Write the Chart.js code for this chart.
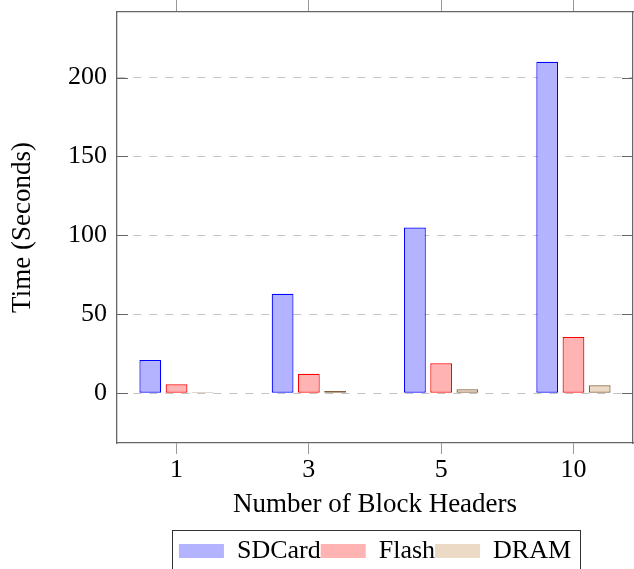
<!DOCTYPE html>
<html>
<head>
<meta charset="utf-8">
<script src="https://cdn.jsdelivr.net/npm/chart.js@4/dist/chart.umd.min.js"></script>
<style>
  html, body { margin: 0; padding: 0; background: #fff; }
  canvas { display: block; }
</style>
</head>
<body>
<canvas id="c" width="634" height="569"></canvas>
<script>
// ---- data ----
const categories = ['1', '3', '5', '10'];
const sdcard = [21, 63, 105, 210];
const flash = [5.7, 12.4, 19, 35.6];
const dram = [0.6, 1.5, 2.5, 5.1];
const yTicks = [0, 50, 100, 150, 200];
const seriesNames = ['SDCard', 'Flash', 'DRAM'];

const xMin = -0.45, xMax = categories.length - 1 + 0.45;
const yMin = -31.5, yMax = 241.5;

const FONT = 'Liberation Serif';
const frameColor = '#666';

function pts(arr) { return arr.map((v, i) => ({ x: i, y: v })); }
function xTickList(scale) { scale.ticks = categories.map((_, i) => ({ value: i })); }
function yTickList(scale) { scale.ticks = yTicks.map(v => ({ value: v })); }
function noPad(s) { s.paddingTop = 0; s.paddingBottom = 0; s.paddingLeft = 0; s.paddingRight = 0; }

const innerTicks = {
  id: 'innerTicks',
  afterDatasetsDraw(chart) {
    const ctx = chart.ctx, y = chart.scales.y, a = chart.chartArea;
    ctx.save();
    ctx.strokeStyle = frameColor;
    ctx.lineWidth = 1;
    yTicks.forEach(v => {
      const p = Math.round(y.getPixelForValue(v)) + 0.5;
      ctx.beginPath();
      ctx.moveTo(a.left, p); ctx.lineTo(a.left + 11, p);
      ctx.moveTo(a.right - 11, p); ctx.lineTo(a.right, p);
      ctx.stroke();
    });
    ctx.restore();
  }
};

const legendFrame = {
  id: 'legendFrame',
  afterDraw(chart) {
    const lg = chart.legend, hb = lg && lg.legendHitBoxes;
    if (!hb || !hb.length) return;
    const ctx = chart.ctx;
    const last = hb[hb.length - 1];
    const l = Math.round(hb[0].left - 6.5) + 0.5;
    const r = Math.round(last.left + last.width + 8.5) + 0.5;
    const t = Math.round(lg.top - 8) + 0.5;
    const b = lg.bottom + 4;
    ctx.save();
    ctx.strokeStyle = '#333';
    ctx.lineWidth = 1;
    ctx.strokeRect(l, t, r - l, b - t);
    ctx.restore();
  }
};

const colors = [
  { bg: '#b3b3ff', border: '#0000ff' },
  { bg: '#ffb3b3', border: '#ff0000' },
  { bg: '#ecd9c6', border: '#85603a' }
];
const seriesData = [sdcard, flash, dram];

new Chart(document.getElementById('c'), {
  type: 'bar',
  data: {
    datasets: seriesNames.map((name, i) => ({
      label: name,
      data: pts(seriesData[i]),
      backgroundColor: colors[i].bg,
      borderColor: colors[i].border,
      borderWidth: 1.2,
      borderSkipped: false,
      inflateAmount: 0,
      categoryPercentage: 0.595,
      barPercentage: 0.83
    }))
  },
  options: {
    responsive: false,
    animation: false,
    devicePixelRatio: 1,
    layout: { padding: { top: 0, left: 0, right: 0, bottom: -5 } },
    plugins: {
      tooltip: { enabled: false },
      legend: {
        position: 'bottom',
        fullSize: false,
        labels: {
          font: { family: FONT, size: 26 },
          color: '#000',
          boxWidth: 45,
          boxHeight: 14,
          padding: 0,
          generateLabels(chart) {
            return chart.data.datasets.map((ds, i) => ({
              text: ds.label,
              fillStyle: ds.backgroundColor,
              strokeStyle: ds.backgroundColor,
              lineWidth: 0,
              hidden: false,
              datasetIndex: i,
              fontColor: '#000'
            }));
          }
        }
      }
    },
    scales: {
      x: {
        type: 'linear',
        position: 'bottom',
        offset: false,
        min: xMin, max: xMax,
        afterBuildTicks: xTickList,
        afterFit(s) { s.height = 95; noPad(s); },
        ticks: {
          font: { family: FONT, size: 26 },
          color: '#000',
          padding: 1,
          callback: (v) => categories[v] !== undefined ? categories[v] : ''
        },
        grid: { offset: false, drawOnChartArea: false, drawTicks: true, tickLength: 11, color: '#999', lineWidth: 1 },
        border: { display: true, color: frameColor, width: 1.3 },
        title: {
          display: true,
          text: 'Number of Block Headers',
          font: { family: FONT, size: 27 },
          color: '#000',
          padding: { top: 0, bottom: 16.6 }
        }
      },
      xTop: {
        type: 'linear',
        position: 'top',
        offset: false,
        min: xMin, max: xMax,
        afterBuildTicks: xTickList,
        afterFit(s) { s.height = 12; noPad(s); },
        ticks: { display: false },
        grid: { offset: false, drawOnChartArea: false, drawTicks: true, tickLength: 12, color: '#999', lineWidth: 1 },
        border: { display: true, color: frameColor, width: 1.3 }
      },
      y: {
        type: 'linear',
        position: 'left',
        min: yMin, max: yMax,
        afterBuildTicks: yTickList,
        afterFit(s) { s.width = 117; noPad(s); },
        ticks: {
          font: { family: FONT, size: 26 },
          color: '#000',
          padding: 10
        },
        grid: { drawOnChartArea: true, drawTicks: false, color: '#c4c4c4', lineWidth: 1 },
        border: { display: true, color: frameColor, width: 1.3, dash: [8, 8] },
        title: {
          display: true,
          text: 'Time (Seconds)',
          font: { family: FONT, size: 27 },
          color: '#000',
          padding: { top: 6.4, bottom: 0 }
        }
      },
      yRight: {
        type: 'linear',
        position: 'right',
        min: yMin, max: yMax,
        afterBuildTicks: yTickList,
        afterFit(s) { s.width = 1; noPad(s); },
        ticks: { display: false },
        grid: { display: false, drawOnChartArea: false, drawTicks: false },
        border: { display: true, color: frameColor, width: 1.3 }
      }
    }
  },
  plugins: [innerTicks, legendFrame]
});
</script>
</body>
</html>
